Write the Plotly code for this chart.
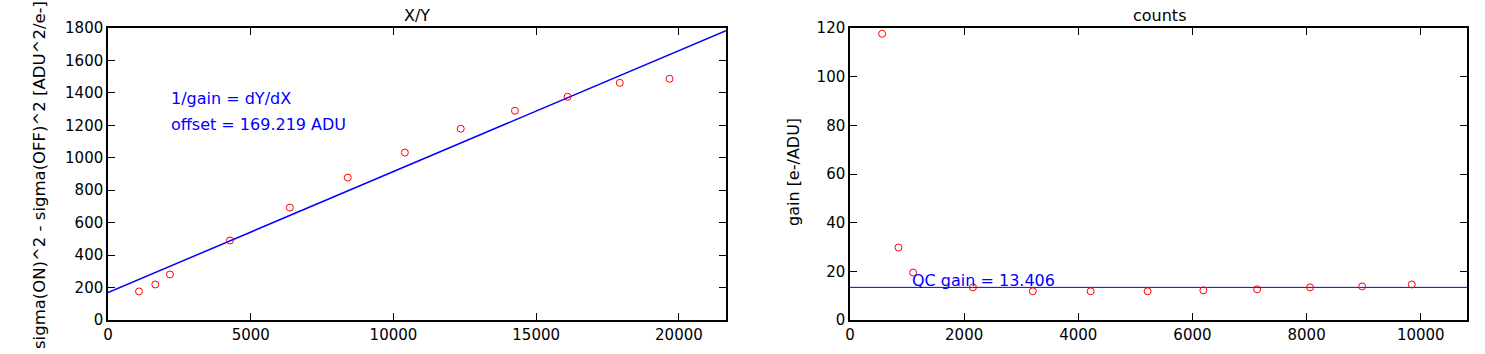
import plotly.graph_objects as go

# Left panel data (X/Y)
xy_x = [1086, 1657, 2171, 4271, 6371, 8400, 10400, 12357, 14257, 16100, 17929, 19671]
xy_y = [176, 219, 281, 490, 693, 878, 1032, 1179, 1290, 1376, 1462, 1487]
# Right panel data (counts)
cnt_x = [563, 849, 1106, 2154, 3203, 4216, 5214, 6191, 7133, 8060, 8973, 9843]
cnt_gain = [117.6, 29.8, 19.5, 13.4, 11.8, 11.8, 11.8, 12.2, 12.6, 13.4, 13.8, 14.6]

qc_gain = 13.406
offset = 169.219
left_xmax = 21650
right_xmax = 10810

left_xticks = [0, 5000, 10000, 15000, 20000]
left_yticks = [0, 200, 400, 600, 800, 1000, 1200, 1400, 1600, 1800]
right_xticks = [0, 2000, 4000, 6000, 8000, 10000]
right_yticks = [0, 20, 40, 60, 80, 100, 120]

W, H = 1485, 354
FONT = "DejaVu Sans"

def fx(px):
    return px / W

def fy(py):
    return 1 - py / H

fig = go.Figure()

# fit line in left panel
line_x = [0, left_xmax]
line_y = [offset + v / qc_gain for v in line_x]
fig.add_trace(go.Scatter(x=line_x, y=line_y, mode="lines",
                         line=dict(color="blue", width=1.5),
                         xaxis="x", yaxis="y", showlegend=False, hoverinfo="skip"))
fig.add_trace(go.Scatter(x=xy_x, y=xy_y, mode="markers",
                         marker=dict(symbol="circle-open", color="red", size=7,
                                     line=dict(width=1, color="red")),
                         xaxis="x", yaxis="y", showlegend=False))

# QC gain line in right panel
fig.add_trace(go.Scatter(x=[0, right_xmax], y=[qc_gain, qc_gain], mode="lines",
                         line=dict(color="blue", width=1),
                         xaxis="x2", yaxis="y2", showlegend=False, hoverinfo="skip"))
fig.add_trace(go.Scatter(x=cnt_x, y=cnt_gain, mode="markers",
                         marker=dict(symbol="circle-open", color="red", size=7,
                                     line=dict(width=1, color="red")),
                         xaxis="x2", yaxis="y2", showlegend=False))

axis_common = dict(showline=True, linecolor="black", linewidth=1.5, mirror="allticks",
                   ticks="inside", ticklen=7, tickwidth=1, tickcolor="black",
                   showgrid=False, zeroline=False, automargin=False, tickformat="d",
                   tickfont=dict(family=FONT, size=15, color="black"))

fig.update_layout(
    template="none",
    width=W, height=H,
    margin=dict(l=0, r=0, t=0, b=0, pad=0),
    paper_bgcolor="white", plot_bgcolor="white",
    font=dict(family=FONT, size=15, color="black"),
    xaxis=dict(domain=[fx(108), fx(726)], range=[0, left_xmax], anchor="y",
               tickvals=left_xticks, **axis_common),
    yaxis=dict(domain=[fy(320), fy(28)], range=[0, 1800], anchor="x",
               tickvals=left_yticks, **axis_common),
    xaxis2=dict(domain=[fx(850), fx(1467)], range=[0, right_xmax], anchor="y2",
                tickvals=right_xticks, **axis_common),
    yaxis2=dict(domain=[fy(320), fy(28)], range=[0, 120], anchor="x2",
                tickvals=right_yticks, **axis_common),
    annotations=[
        dict(text="X/Y", x=fx(417), y=fy(15), xref="paper", yref="paper",
             showarrow=False, xanchor="center", yanchor="middle",
             font=dict(family=FONT, size=16, color="black")),
        dict(text="counts", x=fx(1159), y=fy(15), xref="paper", yref="paper",
             showarrow=False, xanchor="center", yanchor="middle",
             font=dict(family=FONT, size=16, color="black")),
        dict(text="sigma(ON)^2 - sigma(OFF)^2 [ADU^2/e-]", x=fx(40), y=fy(175),
             xref="paper", yref="paper", showarrow=False, textangle=-90,
             xanchor="center", yanchor="middle",
             font=dict(family=FONT, size=16.5, color="black")),
        dict(text="gain [e-/ADU]", x=fx(793), y=fy(172),
             xref="paper", yref="paper", showarrow=False, textangle=-90,
             xanchor="center", yanchor="middle",
             font=dict(family=FONT, size=16, color="black")),
        dict(text="1/gain = dY/dX", x=fx(169), y=fy(98), xref="paper", yref="paper",
             showarrow=False, xanchor="left", yanchor="middle",
             font=dict(family=FONT, size=16, color="blue")),
        dict(text="offset = 169.219 ADU", x=fx(169), y=fy(124), xref="paper", yref="paper",
             showarrow=False, xanchor="left", yanchor="middle",
             font=dict(family=FONT, size=16, color="blue")),
        dict(text="QC gain = 13.406", x=cnt_x[2], y=qc_gain, xref="x2", yref="y2",
             showarrow=False, xanchor="left", yanchor="bottom", xshift=-3, yshift=-5,
             font=dict(family=FONT, size=16, color="blue")),
    ],
)

fig.write_html("out.html")
